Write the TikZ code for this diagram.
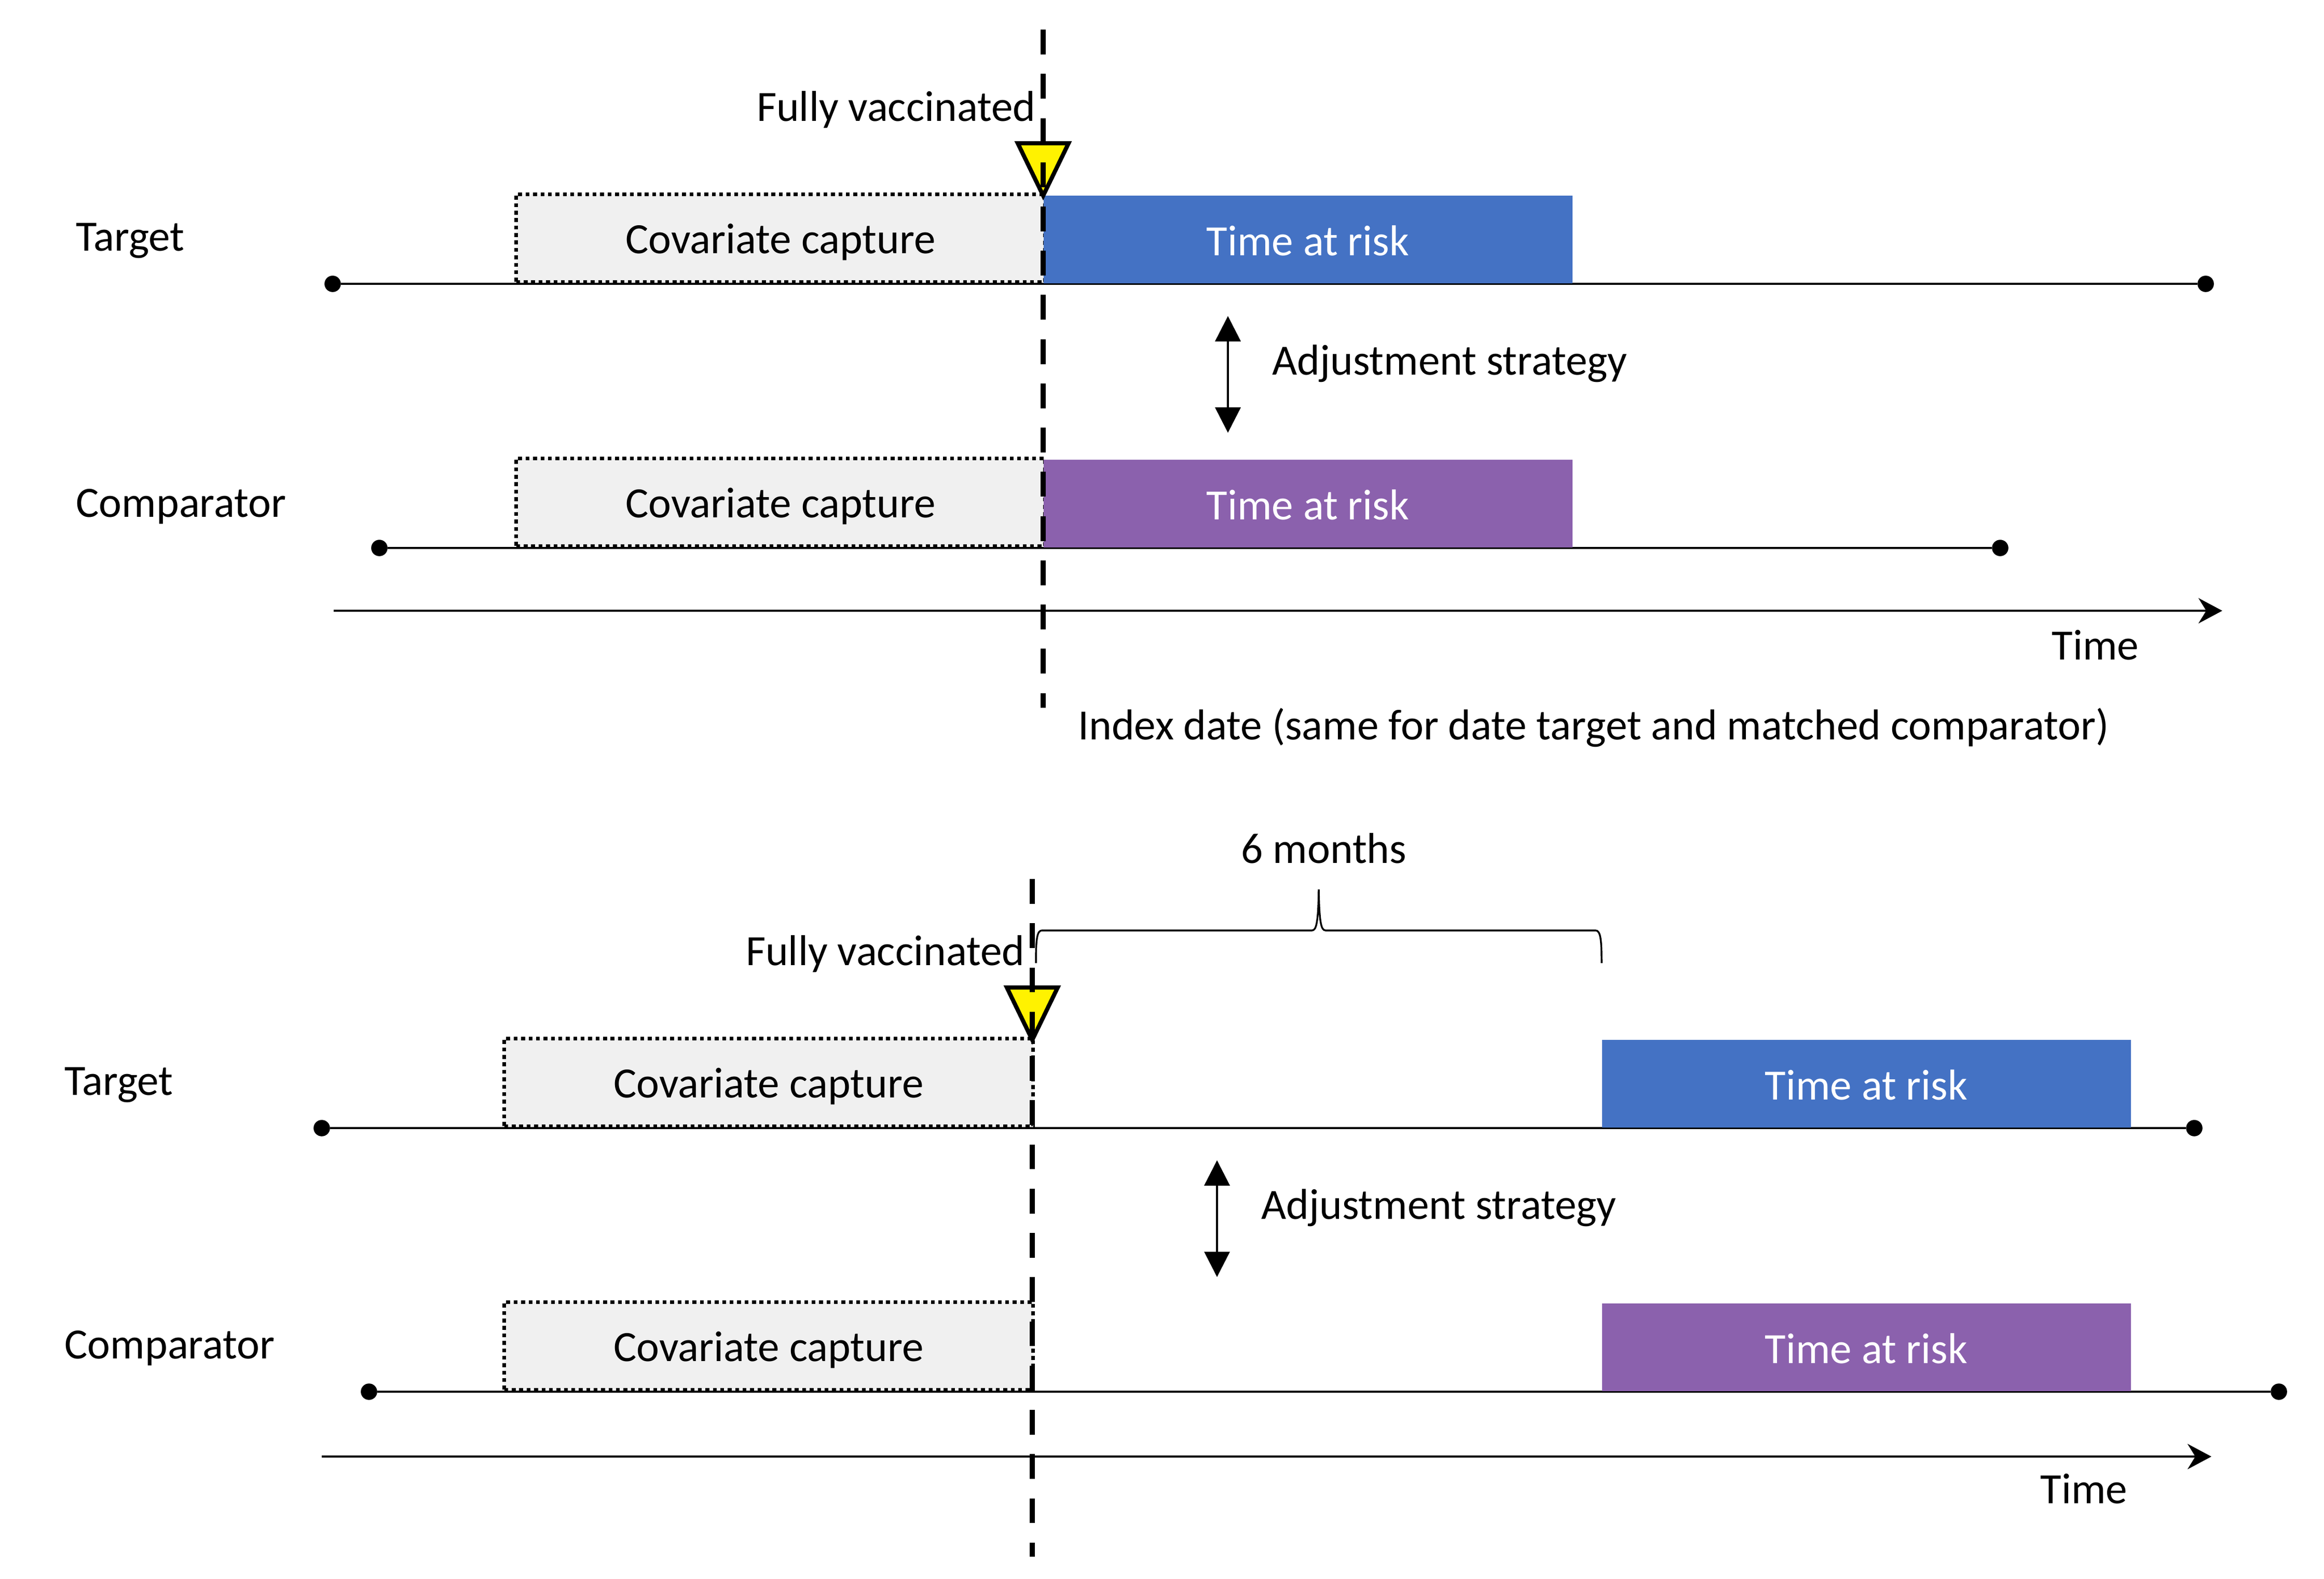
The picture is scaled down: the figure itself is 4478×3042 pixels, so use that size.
\documentclass[tikz,border=0pt]{standalone}
\usepackage{fontspec}
\setmainfont{Carlito}
\usepackage{xcolor}
\usepackage{tikz}
\usetikzlibrary{arrows.meta,positioning}

\definecolor{riskblue}{HTML}{4472C4}
\definecolor{riskpurple}{HTML}{8B61AD}
\definecolor{capgray}{HTML}{F0F0F0}

\begin{document}
\begin{tikzpicture}[
        x=0.3484pt, y=-0.3484pt,
        font=\fontsize{29}{35}\selectfont,
        covbox/.style={rectangle, draw, fill=capgray, line width=2.6pt, dash pattern=on 2.6pt off 2.4pt, minimum width=355pt, minimum height=58.9pt, inner sep=0pt, text height=21pt, text depth=0pt, anchor=south west},
        riskbox/.style={rectangle, minimum width=355pt, minimum height=58.9pt, inner sep=0pt, text height=21pt, text depth=0pt, anchor=south west, text=white},
        lbl/.style={inner sep=0pt, anchor=base west},
        enddot/.style={circle, fill, inner sep=0pt, minimum size=11pt},
        tline/.style={line width=1.4pt},
        idxline/.style={line width=3.6pt, dash pattern=on 16.7pt off 13pt},
        flag/.style={fill=yellow, line width=2.8pt},
        arrow/.style={line width=1.4pt, {Triangle[length=17pt,width=17pt]}-{Triangle[length=17pt,width=17pt]}},
        timeaxis/.style={line width=1.4pt, -{Stealth[length=16pt,width=17pt]}}
    ]
        \useasboundingbox (0,0) rectangle (4478,3042);

        % upper panel
        \node[enddot] (tgtA) at (641,547) {};
        \node[enddot] (tgtB) at (4250,547) {};
        \node[enddot] (cmpA) at (731,1056) {};
        \node[enddot] (cmpB) at (3854,1056) {};
        \coordinate (axA) at (643,1177);
        \coordinate (axB) at (4282,1177);
        \draw[tline] (tgtA) -- (tgtB);
        \draw[tline] (cmpA) -- (cmpB);
        \draw[timeaxis] (axA) -- (axB);

        \node[covbox] (tgtcov) at (991,547) {Covariate capture};
        \node[riskbox, fill=riskblue] (tgtrisk) at (2010,547) {Time at risk};
        \node[covbox] (cmpcov) at (991,1056) {Covariate capture};
        \node[riskbox, fill=riskpurple] (cmprisk) at (2010,1056) {Time at risk};

        \node[lbl] (tgtlbl) at (146,483) {Target};
        \node[lbl] (cmplbl) at (146,996) {Comparator};
        \node[lbl] (adjlbl) at (2451,722) {Adjustment strategy};
        \node[lbl] (timelbl) at (3953,1271) {Time};
        \node[lbl] (idxlbl) at (2077,1425) {Index date (same for date target and matched comparator)};
        \node[lbl, anchor=base east] (vaclbl) at (1996,233) {Fully vaccinated};

        \coordinate (adjA) at (2366,609);
        \coordinate (adjB) at (2366,834);
        \draw[arrow] (adjA) -- (adjB);

        \filldraw[flag] (1961,276) -- (2059,276) -- (2010,377) -- cycle;
        \coordinate (idxA) at (2010,57);
        \coordinate (idxB) at (2010,1364);
        \draw[idxline] (idxA) -- (idxB);

        % lower panel
        \node[enddot] (tgtC) at (620,2174) {};
        \node[enddot] (tgtD) at (4228,2174) {};
        \node[enddot] (cmpC) at (711,2682) {};
        \node[enddot] (cmpD) at (4391,2682) {};
        \coordinate (axC) at (620,2807);
        \coordinate (axD) at (4261,2807);
        \draw[tline] (tgtC) -- (tgtD);
        \draw[tline] (cmpC) -- (cmpD);
        \draw[timeaxis] (axC) -- (axD);

        \node[covbox] (tgtcov2) at (968,2174) {Covariate capture};
        \node[riskbox, fill=riskblue] (tgtrisk2) at (3086,2174) {Time at risk};
        \node[covbox] (cmpcov2) at (968,2682) {Covariate capture};
        \node[riskbox, fill=riskpurple] (cmprisk2) at (3086,2682) {Time at risk};

        \node[lbl] (tgtlbl2) at (124,2110) {Target};
        \node[lbl] (cmplbl2) at (124,2618) {Comparator};
        \node[lbl] (adjlbl2) at (2430,2349) {Adjustment strategy};
        \node[lbl] (timelbl2) at (3931,2897) {Time};
        \node[lbl, anchor=base] (sixlbl) at (2551,1663) {6 months};
        \node[lbl, anchor=base east] (vaclbl2) at (1975,1860) {Fully vaccinated};

        \coordinate (adjC) at (2345,2236);
        \coordinate (adjD) at (2345,2461);
        \draw[arrow] (adjC) -- (adjD);

        % brace over the 6 months
        \draw[line width=1.2pt] (1996,1856) .. controls (1996,1810) and (1998,1793) .. (2008,1793) -- (2528,1793)
            .. controls (2536,1793) and (2540,1780) .. (2541,1714)
            .. controls (2542,1780) and (2546,1793) .. (2554,1793) -- (3074,1793)
            .. controls (3084,1793) and (3086,1810) .. (3086,1856);

        \filldraw[flag] (1940,1903) -- (2038,1903) -- (1989,2004) -- cycle;
        \coordinate (idxC) at (1989,1694);
        \coordinate (idxD) at (1989,3000);
        \draw[idxline] (idxC) -- (idxD);
    \end{tikzpicture}
\end{document}
